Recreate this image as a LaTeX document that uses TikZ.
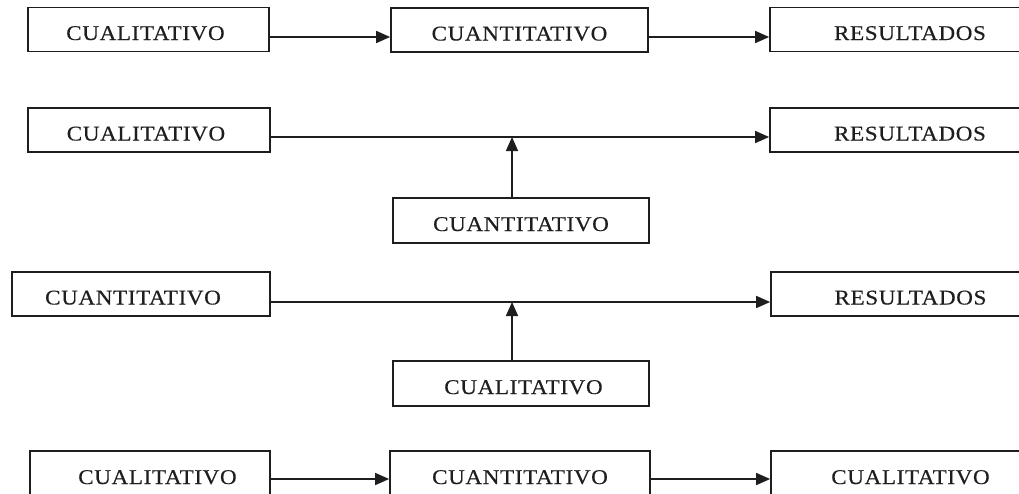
\documentclass[tikz,border=0pt]{standalone}
\usepackage{fontspec}
\setmainfont{Liberation Serif}
\newfontfamily\boxfont[FakeStretch=1.1,LetterSpace=3,FakeBold=0.4]{Liberation Serif}
\usetikzlibrary{arrows.meta}
\definecolor{ink}{HTML}{1E1E1E}
\begin{document}
\begin{tikzpicture}[x=1pt,y=-1pt,
  box/.style={draw=ink,line width=1.7pt,inner sep=0pt,minimum height=44pt,
    text=ink,text height=21pt,text depth=0pt,font=\boxfont\fontsize{21}{24}\selectfont},
  arr/.style={draw=ink,line width=1.6pt,-{Triangle[length=14pt,width=12pt]}}]
\useasboundingbox (0,0) rectangle (1019,493);
\clip (0,0) rectangle (1019,493);
% row 1
\node[box,minimum width=241pt] (L1) at (148.5,29.5) {\hspace*{-6pt}CUALITATIVO};
\node[box,minimum width=257pt] (M1) at (519.5,30) {CUANTITATIVO};
\node[box,minimum width=280pt] (R1) at (910,29.5) {RESULTADOS};
\draw[arr] ([yshift=-7.5pt]L1.east) -- ([yshift=-7pt]M1.west);
\draw[arr] ([yshift=-7pt]M1.east) -- ([yshift=-7.5pt]R1.west);
% row 2
\node[box,minimum width=242pt] (L2) at (149,130) {\hspace*{-6pt}CUALITATIVO};
\node[box,minimum width=280pt] (R2) at (910,130) {RESULTADOS};
\node[box,minimum width=256pt,minimum height=45pt] (M2) at (521,220.5) {CUANTITATIVO};
\coordinate (J2) at (512,137);
\draw[arr] ([yshift=-7pt]L2.east) -- ([yshift=-7pt]R2.west);
\draw[arr] ([xshift=-9pt]M2.north) -- (J2);
% row 3
\node[box,minimum width=258pt] (L3) at (141,294) {\hspace*{-16pt}CUANTITATIVO};
\node[box,minimum width=279pt] (R3) at (910.5,294) {RESULTADOS};
\node[box,minimum width=256pt,minimum height=45pt] (M3) at (521,383.5) {\hspace*{5pt}CUALITATIVO};
\coordinate (J3) at (512,302);
\draw[arr] ([yshift=-8pt]L3.east) -- ([yshift=-8pt]R3.west);
\draw[arr] ([xshift=-9pt]M3.north) -- (J3);
% row 4
\node[box,minimum width=240pt,minimum height=45pt] (L4) at (150,473.5) {\hspace*{15pt}CUALITATIVO};
\node[box,minimum width=260pt,minimum height=45pt] (M4) at (520,473.5) {CUANTITATIVO};
\node[box,minimum width=279pt,minimum height=45pt] (R4) at (910.5,473.5) {CUALITATIVO};
\draw[arr] ([yshift=-5.5pt]L4.east) -- ([yshift=-5.5pt]M4.west);
\draw[arr] ([yshift=-5.5pt]M4.east) -- ([yshift=-5.5pt]R4.west);
\end{tikzpicture}
\end{document}
